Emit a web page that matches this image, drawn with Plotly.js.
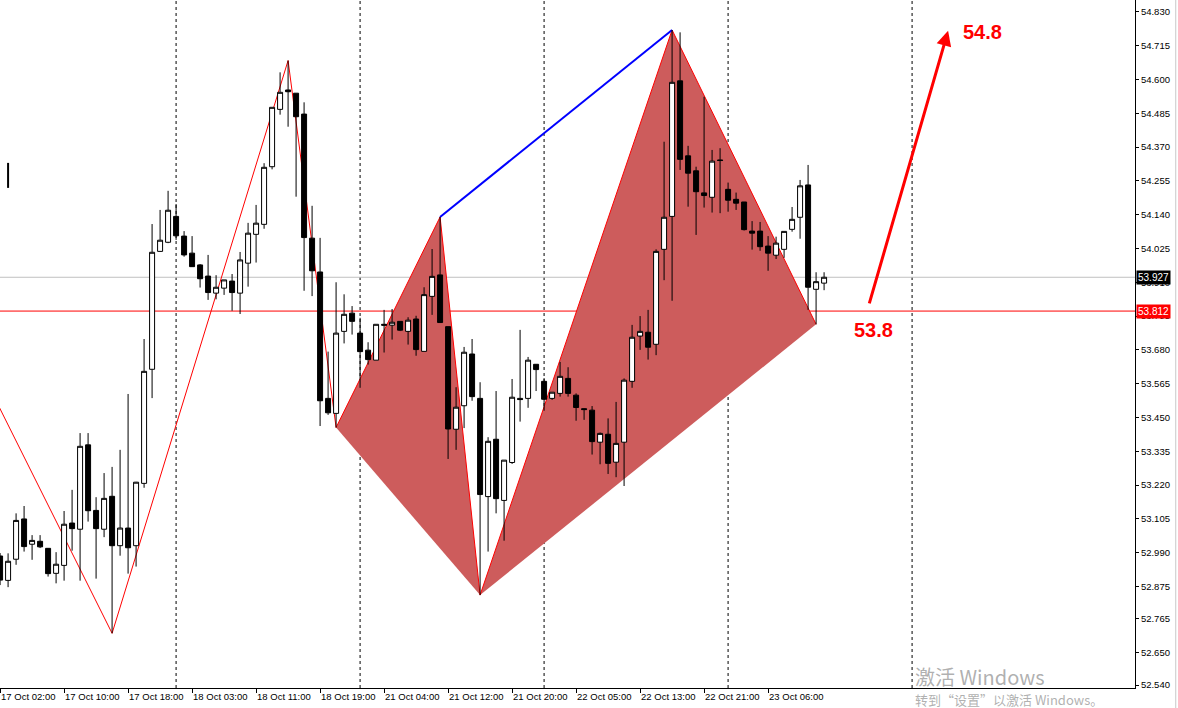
<!DOCTYPE html>
<html><head><meta charset="utf-8">
<script src="https://cdn.plot.ly/plotly-3.0.1.min.js"></script>
<style>html,body{margin:0;padding:0;background:#fff;overflow:hidden;} #chart{width:1178px;height:708px;}</style>
</head><body><div id="chart"></div>
<script>
// hourly bars, index 0 = 17 Oct 02:00
const openP = [52.979,52.896,52.968,53.105,53.019,53.029,53.005,52.920,52.947,53.091,
 53.070,53.357,53.134,53.070,53.182,53.014,53.074,53.014,53.226,53.614,
 54.015,54.046,54.134,54.067,54.009,53.969,53.931,53.873,53.890,53.914,
 53.873,53.975,54.073,54.107,54.303,54.498,54.564,54.553,54.482,54.060,
 53.945,53.515,53.464,53.743,53.805,53.737,53.679,53.645,53.767,53.764,
 53.777,53.743,53.785,53.675,53.862,53.935,53.759,53.410,53.490,53.666,
 53.515,53.181,53.376,53.168,53.297,53.515,53.515,53.631,53.573,53.515,
 53.532,53.583,53.526,53.480,53.475,53.366,53.393,53.298,53.366,53.573,
 53.727,53.740,53.699,54.022,54.134,54.595,54.340,54.289,54.214,54.199,
 54.326,54.226,54.192,54.183,54.084,54.084,54.033,54.002,54.022,54.090,
 54.131,54.241,53.886,53.907];
const highP = [52.989,52.988,53.124,53.149,53.050,53.050,53.006,52.992,53.132,53.204,
 53.397,53.397,53.179,53.261,53.282,53.340,53.530,53.231,53.717,54.108,
 54.156,54.221,54.176,54.084,54.067,53.972,54.003,53.934,53.918,53.938,
 54.013,54.112,54.173,54.315,54.505,54.624,54.664,54.553,54.522,54.170,
 54.061,53.674,53.910,53.869,53.829,53.789,53.706,53.767,53.816,53.819,
 53.777,53.791,53.796,53.893,54.023,54.132,53.759,53.553,53.690,53.717,
 53.570,53.383,53.540,53.305,53.581,53.748,53.656,53.631,53.584,53.536,
 53.639,53.621,53.532,53.481,53.489,53.399,53.447,53.503,53.583,53.765,
 53.795,53.816,54.022,54.388,54.768,54.760,54.374,54.303,54.541,54.360,
 54.366,54.249,54.215,54.183,54.118,54.115,54.067,54.065,54.083,54.166,
 54.258,54.309,53.944,53.944];
const lowP = [52.880,52.873,52.949,52.994,52.966,53.006,52.909,52.886,52.895,52.997,
 52.895,53.096,52.902,53.043,52.716,52.980,52.919,52.943,53.211,53.516,
 54.014,54.043,54.054,53.997,53.962,53.892,53.850,53.852,53.867,53.813,
 53.802,53.895,53.977,54.092,54.294,54.480,54.439,54.201,53.881,53.863,
 53.421,53.459,53.416,53.702,53.732,53.551,53.630,53.645,53.671,53.715,
 53.744,53.698,53.660,53.675,53.799,53.773,53.309,53.340,53.414,53.507,
 52.846,52.994,53.124,53.031,53.292,53.436,53.483,53.540,53.473,53.510,
 53.521,53.521,53.439,53.442,53.324,53.291,53.258,53.247,53.217,53.551,
 53.680,53.647,53.662,53.917,53.847,54.292,54.167,54.071,54.164,54.147,
 54.145,54.150,54.156,54.086,54.021,54.017,53.949,53.989,53.993,54.082,
 54.058,53.816,53.767,53.883];
const closeP = [52.897,52.961,53.100,53.011,53.032,53.010,52.919,52.951,53.087,53.072,
 53.352,53.133,53.072,53.175,53.014,53.074,53.007,53.230,53.607,54.012,
 54.053,54.155,54.068,54.003,53.963,53.922,53.875,53.893,53.918,53.875,
 53.986,54.077,54.111,54.301,54.505,54.556,54.558,54.473,54.062,53.949,
 53.507,53.466,53.737,53.801,53.777,53.674,53.647,53.767,53.764,53.774,
 53.747,53.781,53.681,53.868,53.930,53.773,53.411,53.485,53.672,53.521,
 53.188,53.369,53.174,53.305,53.519,53.511,53.645,53.613,53.512,53.536,
 53.590,53.532,53.484,53.477,53.368,53.396,53.294,53.362,53.577,53.723,
 53.743,53.689,54.015,54.131,54.590,54.328,54.281,54.218,54.205,54.322,
 54.324,54.189,54.179,54.089,54.077,54.031,54.009,54.043,54.083,54.124,
 54.238,53.893,53.912,53.927];

const tickBars = [0,8,16,24,32,40,48,56,64,72,80,88,96];
const tickLabels = ['17 Oct 02:00','17 Oct 10:00','17 Oct 18:00','18 Oct 03:00','18 Oct 11:00',
 '18 Oct 19:00','21 Oct 04:00','21 Oct 12:00','21 Oct 20:00','22 Oct 05:00','22 Oct 13:00',
 '22 Oct 21:00','23 Oct 06:00'];
const priceTicks = [54.830,54.715,54.600,54.485,54.370,54.255,54.140,54.025,53.910,53.795,
 53.680,53.565,53.450,53.335,53.220,53.105,52.990,52.875,52.765,52.650,52.540];
const gridBars = [22,45,68,91,114];

const zigzagBar = [-5,14,36,42,55,60,84,102];
const zigzagPrice = [53.752,52.716,54.664,53.416,54.132,52.846,54.768,53.767];
// harmonic pattern points X, A, B, C, D
const patternBar = [42,55,60,84,102];
const patternPrice = [53.416,54.132,52.846,54.768,53.767];

const bidPrice = 53.927;
const levelPrice = 53.812;
const arrowBar = [108.6,118.5];
const arrowPrice = [53.833,54.765];
const targetTexts = ['53.8','54.8'];
const targetBar = [109.2,122.8];
const targetPrice = [53.748,54.761];
const markBar = [1,1];
const markPrice = [54.316,54.231];

const barIndex = openP.map((_, i) => i);

const FONT = 'Liberation Sans, Arial, sans-serif';

const shapes = [];
gridBars.forEach(b => shapes.push({type:'line', xref:'x', yref:'paper', x0:b, x1:b, y0:0, y1:1,
  line:{color:'#000000', width:1, dash:'3px,3px'}, layer:'below'}));
function tri(a,b,c){
  return `M ${patternBar[a]},${patternPrice[a]} L ${patternBar[b]},${patternPrice[b]} L ${patternBar[c]},${patternPrice[c]} Z`;
}
shapes.push({type:'path', xref:'x', yref:'y', path:tri(0,1,2), fillcolor:'#CD5C5C', line:{width:0}, layer:'below'});
shapes.push({type:'path', xref:'x', yref:'y', path:tri(2,3,4), fillcolor:'#CD5C5C', line:{width:0}, layer:'below'});
shapes.push({type:'line', xref:'paper', yref:'y', x0:0, x1:1, y0:bidPrice, y1:bidPrice, line:{color:'#C0C0C0', width:1}, layer:'below'});
shapes.push({type:'line', xref:'paper', yref:'y', x0:0, x1:1, y0:levelPrice, y1:levelPrice, line:{color:'#FF0000', width:1}, layer:'below'});
let zz = 'M ' + zigzagBar.map((b,i) => b + ',' + zigzagPrice[i]).join(' L ');
shapes.push({type:'path', xref:'x', yref:'y', path:zz, fillcolor:'rgba(0,0,0,0)', line:{color:'#FF0000', width:1}, layer:'below'});
shapes.push({type:'line', xref:'x', yref:'y', x0:patternBar[1], y0:patternPrice[1], x1:patternBar[3], y1:patternPrice[3],
  line:{color:'#0000FF', width:2}, layer:'below'});
shapes.push({type:'line', xref:'x', yref:'y', x0:markBar[0], y0:markPrice[0], x1:markBar[1], y1:markPrice[1],
  line:{color:'#000000', width:2}, layer:'below'});
shapes.push({type:'line', xref:'paper', yref:'paper', x0:1.0359, x1:1.0359, y0:-0.03, y1:1,
  line:{color:'#C8C8C8', width:1}});

const annotations = [
  {x:arrowBar[1], y:arrowPrice[1], ax:arrowBar[0], ay:arrowPrice[0], xref:'x', yref:'y', axref:'x', ayref:'y',
   showarrow:true, arrowhead:2, arrowsize:1, arrowwidth:3, arrowcolor:'#FF0000', text:''},
  {x:targetBar[0], y:targetPrice[0], xref:'x', yref:'y', text:targetTexts[0], showarrow:false,
   font:{family:FONT, size:20, color:'#FF0000', weight:'bold'}},
  {x:targetBar[1], y:targetPrice[1], xref:'x', yref:'y', text:targetTexts[1], showarrow:false,
   font:{family:FONT, size:20, color:'#FF0000', weight:'bold'}},
  {x:1, xref:'paper', xanchor:'left', xshift:1, y:bidPrice, yref:'y', text:bidPrice.toFixed(3), showarrow:false,
   bgcolor:'#000000', borderpad:1, font:{family:FONT, size:10, color:'#FFFFFF'}},
  {x:1, xref:'paper', xanchor:'left', xshift:1, y:levelPrice, yref:'y', text:levelPrice.toFixed(3), showarrow:false,
   bgcolor:'#FF0000', borderpad:1, font:{family:FONT, size:10, color:'#FFFFFF'}},
  {x:0.8044, xref:'paper', xanchor:'left', y:0.016, yref:'paper', yanchor:'middle', text:'激活 Windows', showarrow:false,
   font:{family:'Noto Sans CJK SC, Noto Sans, sans-serif', size:20, color:'rgba(150,150,150,0.75)'}},
  {x:0.8044, xref:'paper', xanchor:'left', y:-0.0174, yref:'paper', yanchor:'middle', text:'转到“设置”以激活 Windows。', showarrow:false,
   font:{family:'Noto Sans CJK SC, Noto Sans, sans-serif', size:13, color:'rgba(150,150,150,0.75)'}}
];

const data = [{
  type:'candlestick', x:barIndex, open:openP, high:highP, low:lowP, close:closeP,
  increasing:{line:{color:'#000000', width:1}, fillcolor:'#FFFFFF'},
  decreasing:{line:{color:'#000000', width:1}, fillcolor:'#000000'},
  whiskerwidth:0, hoverinfo:'skip', showlegend:false
}];

const layout = {
  width:1178, height:708,
  margin:{l:0, r:43, t:0, b:20, pad:0},
  paper_bgcolor:'#FFFFFF', plot_bgcolor:'#FFFFFF',
  showlegend:false, boxgap:0.375, boxgroupgap:0,
  font:{family:FONT, size:10, color:'#000000'},
  xaxis:{type:'linear', range:[-0.01, 141.865], rangeslider:{visible:false},
    tickmode:'array', tickvals:tickBars, ticktext:tickLabels, ticklabelposition:'outside right',
    showgrid:false, zeroline:false, showline:true, linecolor:'#000000', linewidth:1,
    ticks:'outside', ticklen:4, tickcolor:'#000000', tickfont:{family:FONT, size:9.5, color:'#000000'}},
  yaxis:{side:'right', range:[52.530, 54.870], tickmode:'array', tickvals:priceTicks, tickformat:'.3f',
    showgrid:false, zeroline:false, showline:true, linecolor:'#000000', linewidth:1,
    ticks:'outside', ticklen:3, tickcolor:'#000000', tickfont:{family:FONT, size:9.5, color:'#000000'}},
  shapes:shapes, annotations:annotations
};

Plotly.newPlot('chart', data, layout, {staticPlot:true, displayModeBar:false});
</script></body></html>
